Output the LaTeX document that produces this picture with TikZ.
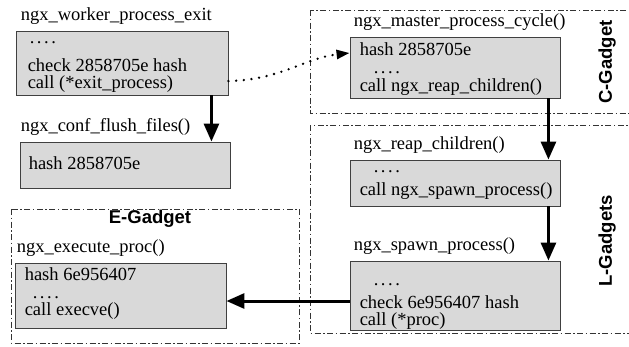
\documentclass[tikz,border=0pt]{standalone}
\usepackage{fontspec}
\setmainfont{Liberation Serif}
\setsansfont{Liberation Sans}
\usetikzlibrary{arrows.meta}
\definecolor{boxgray}{HTML}{D9D9D9}

\newcommand{\fourdots}{.\hspace{2.6pt}.\hspace{2.6pt}.\hspace{2.6pt}.}

\begin{document}
\begin{tikzpicture}[x=1pt, y=-1pt,
  procbox/.style = {rectangle, draw=black!75, line width=0.9pt,
    fill=boxgray, inner sep=0pt},
  proctext/.style = {anchor=north west, inner sep=0pt, align=left,
    font=\fontsize{18.5}{17.5}\selectfont},
  fnlabel/.style = {anchor=base west, inner sep=0pt,
    font=\fontsize{18.5}{17.5}\selectfont},
  gadget/.style = {draw=black!80, line width=0.8pt,
    dash pattern=on 6pt off 2.5pt on 1.5pt off 2.5pt},
  gadgettitle/.style = {inner sep=0pt,
    font=\sffamily\bfseries\fontsize{18.5}{20}\selectfont},
  callarrow/.style = {line width=3pt, -{Triangle[length=18pt,width=15pt]}},
  hijack/.style = {line width=2.6pt, line cap=round,
    dash pattern=on 0pt off 7.7pt, -{Triangle[length=13pt,width=9pt]}}]
  \clip (0,0) rectangle (629,346);

  % gadget frames
  \draw[gadget] (310,10) rectangle (640,113);
  \draw[gadget] (310,125) rectangle (640,333);
  \draw[gadget] (11,209) rectangle (299,343);
  \node[gadgettitle, rotate=90] (cgadget) at (607,62) {C-Gadget};
  \node[gadgettitle, rotate=90] (lgadgets) at (607,241) {L-Gadgets};
  \node[gadgettitle] (egadget) at (150,219) {E-Gadget};

  % functions
  \node[procbox, minimum width=212pt, minimum height=64pt] (worker) at (122,63) {};
  \node[procbox, minimum width=210pt, minimum height=46pt] (conf) at (125,165) {};
  \node[procbox, minimum width=210pt, minimum height=61pt] (master) at (455,67.5) {};
  \node[procbox, minimum width=210pt, minimum height=46pt] (reap) at (455,183) {};
  \node[procbox, minimum width=210pt, minimum height=69pt] (spawn) at (455,295.5) {};
  \node[procbox, minimum width=211pt, minimum height=65pt] (execute) at (120.5,295.5) {};

  \node[fnlabel] (workerlbl) at ([xshift=5pt,yshift=10pt]worker.north west) {ngx\_worker\_process\_exit};
  \node[fnlabel] (conflbl) at ([xshift=1pt,yshift=10pt]conf.north west) {ngx\_conf\_flush\_files()};
  \node[fnlabel] (masterlbl) at ([xshift=4pt,yshift=10pt]master.north west) {ngx\_master\_process\_cycle()};
  \node[fnlabel] (reaplbl) at ([xshift=4pt,yshift=10pt]reap.north west) {ngx\_reap\_children()};
  \node[fnlabel] (spawnlbl) at ([xshift=4pt,yshift=10pt]spawn.north west) {ngx\_spawn\_process()};
  \node[fnlabel] (executelbl) at ([xshift=2pt,yshift=10pt]execute.north west) {ngx\_execute\_proc()};

  \node[proctext] (workertxt) at ([xshift=12pt]worker.north west)
    {\strut\hspace{2pt}\fourdots\\[9pt]check 2858705e hash\\call (*exit\_process)};
  \node[proctext] (conftxt) at ([xshift=9pt,yshift=-15pt]conf.north west)
    {\strut hash 2858705e};
  \node[proctext] (mastertxt) at ([xshift=10pt,yshift=-6pt]master.north west)
    {\strut hash 2858705e\\\hspace{14pt}\fourdots\\[1pt]call ngx\_reap\_children()};
  \node[proctext] (reaptxt) at ([xshift=10pt]reap.north west)
    {\strut\hspace{14pt}\fourdots\\[4pt]call ngx\_spawn\_process()};
  \node[proctext] (spawntxt) at ([xshift=10pt,yshift=-12pt]spawn.north west)
    {\strut\hspace{14pt}\fourdots\\[4pt]check 6e956407 hash\\call (*proc)};
  \node[proctext] (executetxt) at ([xshift=10pt,yshift=-5pt]execute.north west)
    {\strut hash 6e956407\\\hspace{8pt}\fourdots\\call execve()};

  % calls
  \draw[callarrow] ([xshift=-17pt]worker.south east) -- ([xshift=-17pt]worker.south east |- conf.north);
  \draw[callarrow] ([xshift=-12pt]master.south east) -- ([xshift=-12pt]master.south east |- reap.north);
  \draw[callarrow] ([xshift=-12pt]reap.south east) -- ([xshift=-12pt]reap.south east |- spawn.north);
  \draw[callarrow] ([yshift=-5.5pt]spawn.west) -- ([yshift=-5.5pt]spawn.west -| execute.east);
  \draw[hijack] ([yshift=-18pt]worker.east) .. controls (280,80) and (305,58) .. ([yshift=14.5pt]master.west);
\end{tikzpicture}
\end{document}
